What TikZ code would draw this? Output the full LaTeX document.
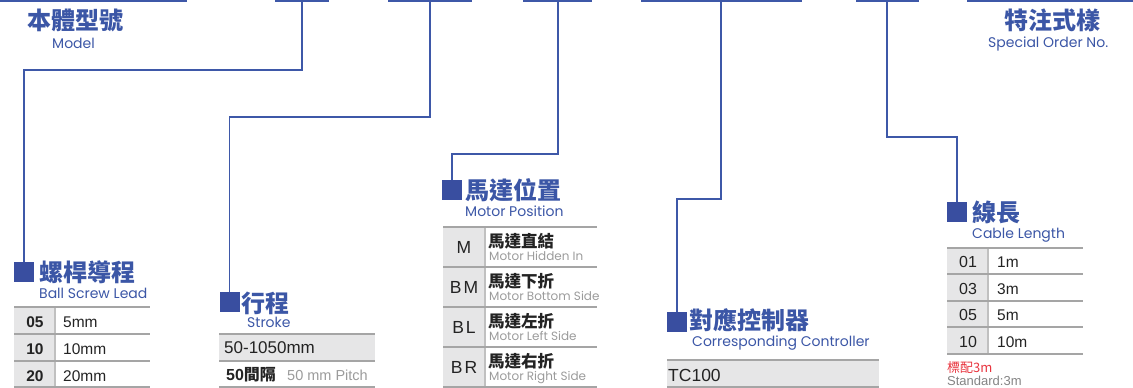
\documentclass[tikz,border=0pt]{standalone}
\usepackage{fontspec}
\setmainfont{Liberation Sans}
\newfontfamily\cjk{Noto Sans CJK TC}
\newfontfamily\geo{Poppins}
\definecolor{lblue}{RGB}{62,88,168}
\definecolor{sqblue}{RGB}{57,78,160}
\definecolor{tblue}{RGB}{59,86,166}
\definecolor{gline}{RGB}{165,165,165}
\definecolor{gfill}{RGB}{230,230,231}
\definecolor{dark}{RGB}{35,35,35}
\definecolor{sgray}{RGB}{155,155,155}
\definecolor{nred}{RGB}{232,52,62}
\tikzset{
  bar/.style={draw=lblue, line width=1.6pt},
  conn/.style={draw=lblue, line width=1.3pt},
  sq/.style={fill=sqblue, minimum size=20pt, inner sep=0pt, outer sep=0pt},
  ttl/.style={anchor=base west, inner sep=0pt, text=tblue, font=\cjk\bfseries\fontsize{24}{24}\selectfont},
  sub/.style={anchor=base west, inner sep=0pt, text=tblue, font=\geo\fontsize{14}{14}\selectfont},
  code/.style={anchor=base, inner sep=0pt, text=dark, font=\fontsize{16}{16}\selectfont},
  val/.style={anchor=base west, inner sep=0pt, text=dark, font=\fontsize{15.5}{15.5}\selectfont},
  mzh/.style={anchor=base west, inner sep=0pt, text=dark, font=\cjk\bfseries\fontsize{16.5}{16.5}\selectfont},
  men/.style={anchor=base west, inner sep=0pt, text=sgray, font=\geo\fontsize{12}{12}\selectfont},
  hl/.style={draw=gline, line width=1.5pt},
  vl/.style={draw=gline!70, line width=1.2pt},
  cellfill/.style={fill=gfill, draw=none}
}
\begin{document}
\begin{tikzpicture}[x=1pt,y=-1pt]
\useasboundingbox (0,0) rectangle (1133,388);
% top bars
\foreach \a/\b in {0/187,275/329,388/472,523/592,641/802,856/919,967/1133}
  \draw[bar] (\a,0.8) -- (\b,0.8);
\coordinate (t1) at (302,0);
\coordinate (t2) at (430,0);
\coordinate (t3) at (558,0);
\coordinate (t4) at (721,0);
\coordinate (t5) at (887,0);

% header titles
\node[ttl] (mdl) at (27,29) {本體型號};
\node[sub] (mdle) at (52,48) {Model};
\node[ttl] (spc) at (1004,29) {特注式樣};
\node[sub] (spce) at (988,47) {Special Order No.};

% squares
\node[sq] (sq1) at (24,272) {};
\node[sq] (sq2) at (229.5,302) {};
\node[sq] (sq3) at (452,190) {};
\node[sq] (sq4) at (677,322) {};
\node[sq] (sq5) at (957,212) {};

% connectors
\draw[conn] (t1) -- ++(0,70) -| (sq1.north);
\draw[conn] (t2) -- ++(0,117) -| (sq2.north);
\draw[conn] (t3) -- ++(0,154) -| (sq3.north);
\draw[conn] (t4) -- ++(0,199) -| (sq4.north);
\draw[conn] (t5) -- ++(0,137) -| (sq5.north);

% ===== Ball screw lead =====
\node[ttl] (bsl) at (39,281) {螺桿導程};
\node[sub] (bsle) at (39,298) {Ball Screw Lead};
\fill[cellfill] (14,307) rectangle (55,387);
\draw[vl] (55,307) -- (55,387);
\foreach \y in {307,334,361,387} \draw[hl] (14,\y) -- (150,\y);
\node[code,font=\bfseries\fontsize{15.5}{15.5}\selectfont] (b1) at (35,327) {05};
\node[code,font=\bfseries\fontsize{15.5}{15.5}\selectfont] (b2) at (35,354) {10};
\node[code,font=\bfseries\fontsize{15.5}{15.5}\selectfont] (b3) at (35,381) {20};
\node[val] (bv1) at (63,327) {5mm};
\node[val] (bv2) at (63,354) {10mm};
\node[val] (bv3) at (63,381) {20mm};

% ===== Stroke =====
\node[ttl] (stk) at (241,312) {行程};
\node[sub] (stke) at (247,327) {Stroke};
\fill[cellfill] (219,334) rectangle (375,361);
\foreach \y in {334,361,387} \draw[hl] (219,\y) -- (375,\y);
\node[val,font=\fontsize{17}{17}\selectfont] (s1) at (224,353) {50-1050mm};
\node[val,font=\bfseries\fontsize{16}{16}\selectfont] (s2) at (226,380) {50{\cjk\bfseries 間隔}};
\node[val,text=sgray,font=\fontsize{14.5}{14.5}\selectfont] (s3) at (287,380) {50 mm Pitch};

% ===== Motor position =====
\node[ttl] (mp) at (465,199) {馬達位置};
\node[sub] (mpe) at (465,216) {Motor Position};
\fill[cellfill] (443,227) rectangle (485,387);
\draw[vl] (485,227) -- (485,387);
\foreach \y in {227,267,307,347,387} \draw[hl] (443,\y) -- (597,\y);
\node[code,font=\fontsize{17.5}{17.5}\selectfont] (m1) at (464,253) {M};
\node[code,font=\fontsize{17.5}{17.5}\selectfont] (m2) at (464,293) {B\kern2pt M};
\node[code,font=\fontsize{17.5}{17.5}\selectfont] (m3) at (464,333) {B\kern2pt L};
\node[code,font=\fontsize{17.5}{17.5}\selectfont] (m4) at (464,373) {B\kern2pt R};
\node[mzh] (mz1) at (488,247) {馬達直結};
\node[mzh] (mz2) at (488,287) {馬達下折};
\node[mzh] (mz3) at (488,327) {馬達左折};
\node[mzh] (mz4) at (488,367) {馬達右折};
\node[men] (me1) at (489,260) {Motor Hidden In};
\node[men] (me2) at (489,300) {Motor Bottom Side};
\node[men] (me3) at (489,340) {Motor Left Side};
\node[men] (me4) at (489,380) {Motor Right Side};

% ===== Controller =====
\node[ttl] (ctl) at (689,329) {對應控制器};
\node[sub] (ctle) at (692,346) {Corresponding Controller};
\fill[cellfill] (667,360) rectangle (879,387);
\foreach \y in {360,387} \draw[hl] (667,\y) -- (879,\y);
\node[val,font=\fontsize{17.5}{17.5}\selectfont] (c1) at (668,381) {TC100};

% ===== Cable length =====
\node[ttl] (cbl) at (972,221) {線長};
\node[sub] (cble) at (972,238) {Cable Length};
\fill[cellfill] (947,248) rectangle (988,354);
\draw[vl] (988,248) -- (988,354);
\foreach \y in {248,274,301,327,354} \draw[hl] (947,\y) -- (1083,\y);
\node[code] (k1) at (968,267) {01};
\node[code] (k2) at (968,294) {03};
\node[code] (k3) at (968,320) {05};
\node[code] (k4) at (968,347) {10};
\node[val] (kv1) at (997,267) {1m};
\node[val] (kv2) at (997,294) {3m};
\node[val] (kv3) at (997,320) {5m};
\node[val] (kv4) at (997,347) {10m};
\node[anchor=base west, inner sep=0pt, text=nred, font=\cjk\fontsize{13}{13}\selectfont] (n1) at (947,372) {標配3m};
\node[anchor=base west, inner sep=0pt, text=sgray!85!black, font=\fontsize{13}{13}\selectfont] (n2) at (947,385) {Standard:3m};
\end{tikzpicture}
\end{document}
